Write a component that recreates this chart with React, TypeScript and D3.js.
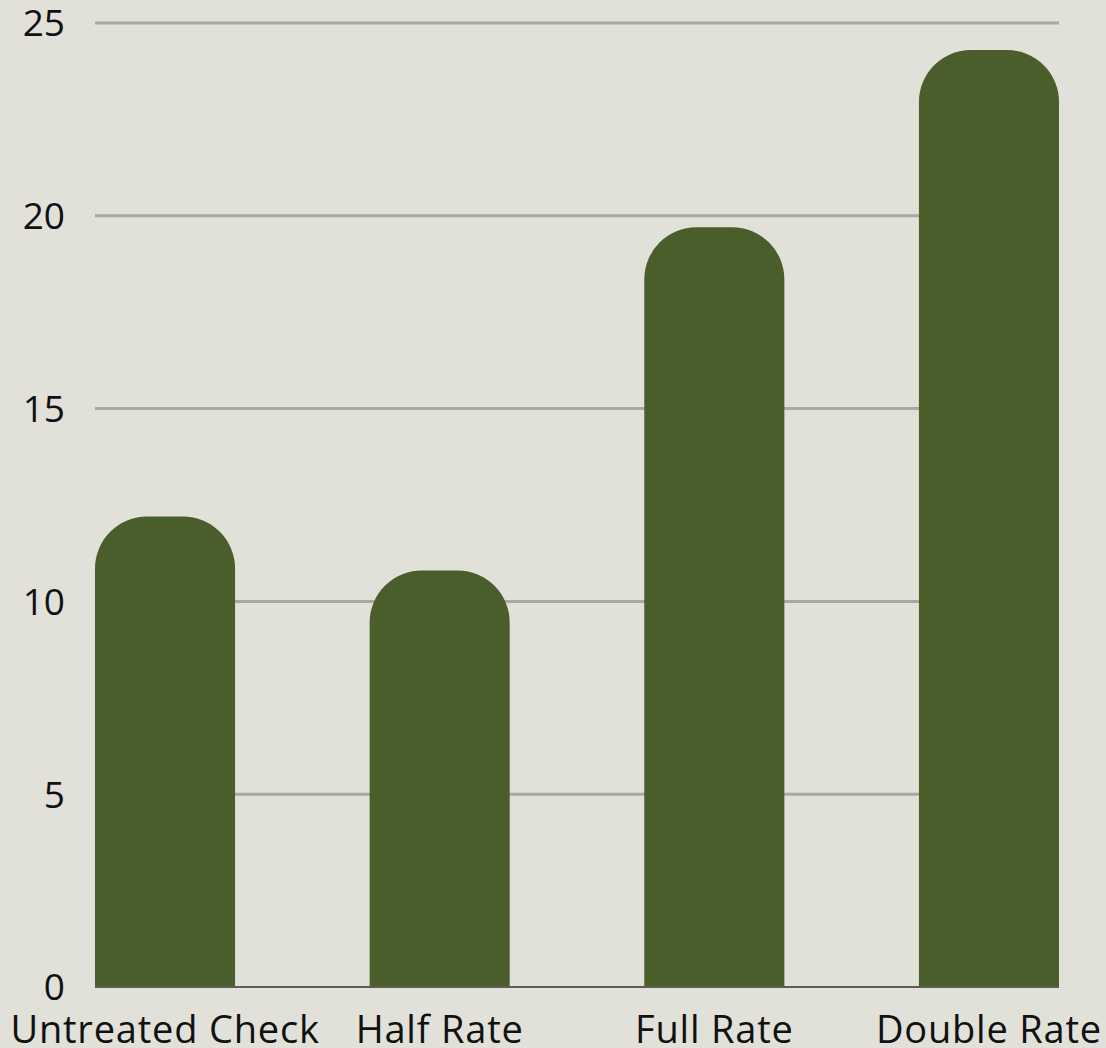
import { useEffect, useRef } from 'react';
import * as d3 from 'd3';

const categories = ['Untreated Check', 'Half Rate', 'Full Rate', 'Double Rate'];
const values = [12.2, 10.8, 19.7, 24.3];
const yTicks = [0, 5, 10, 15, 20, 25];

const W = 1106;
const H = 1048;

// bar with rounded top corners (circular arcs)
function roundedTop(x: number, y: number, w: number, h: number, r: number) {
    const rr = Math.min(r, w / 2, h);
    return `M${x},${y + h}V${y + rr}A${rr},${rr} 0 0 1 ${x + rr},${y}H${x + w - rr}A${rr},${rr} 0 0 1 ${x + w},${y + rr}V${y + h}Z`;
}

const App = () => {
    const ref = useRef<SVGSVGElement | null>(null);

    useEffect(() => {
        const margin = { top: 23, right: 47, bottom: 61, left: 95 };
        const width = W - margin.left - margin.right;
        const height = H - margin.top - margin.bottom;

        const root = d3.select(ref.current);
        root.selectAll('*').remove();
        root.append('rect').attr('width', W).attr('height', H).attr('fill', '#e1e1da');

        const svg = root.append('g').attr('transform', `translate(${margin.left},${margin.top})`);

        const x = d3.scaleBand().domain(categories).range([0, width]).paddingInner(0.49).paddingOuter(0);
        const y = d3.scaleLinear().domain([0, 25]).range([height, 0]);

        svg.append('g')
            .selectAll('line')
            .data(yTicks.filter(t => t > 0))
            .join('line')
            .attr('x1', 0)
            .attr('x2', width)
            .attr('y1', d => y(d))
            .attr('y2', d => y(d))
            .attr('stroke', '#a8a8a4')
            .attr('stroke-width', 3);

        svg.append('g')
            .selectAll('text')
            .data(yTicks)
            .join('text')
            .attr('x', -30)
            .attr('y', d => y(d))
            .attr('dy', '0.36em')
            .attr('text-anchor', 'end')
            .attr('font-family', 'Open Sans, sans-serif')
            .attr('font-size', 37)
            .attr('fill', '#111')
            .text(d => d);

        svg.append('g')
            .selectAll('path')
            .data(values)
            .join('path')
            .attr('d', (d, i) => {
                const bx = x(categories[i])!;
                return roundedTop(bx, y(d), x.bandwidth(), height - y(d), 52);
            })
            .attr('fill', '#495e2b');

        svg.append('line')
            .attr('x1', 0)
            .attr('x2', width)
            .attr('y1', height)
            .attr('y2', height)
            .attr('stroke', '#5c5c58')
            .attr('stroke-width', 2);

        svg.append('g')
            .selectAll('text')
            .data(categories)
            .join('text')
            .attr('x', d => x(d)! + x.bandwidth() / 2)
            .attr('y', height + 56)
            .attr('text-anchor', 'middle')
            .attr('font-family', 'Open Sans, sans-serif')
            .attr('font-size', 38)
            .attr('letter-spacing', 0.8)
            .attr('fill', '#111')
            .text(d => d);
    }, []);

    return <svg ref={ref} width={W} height={H} style={{ display: 'block', position: 'absolute', left: 0, top: 0 }}></svg>;
};

export default App;
